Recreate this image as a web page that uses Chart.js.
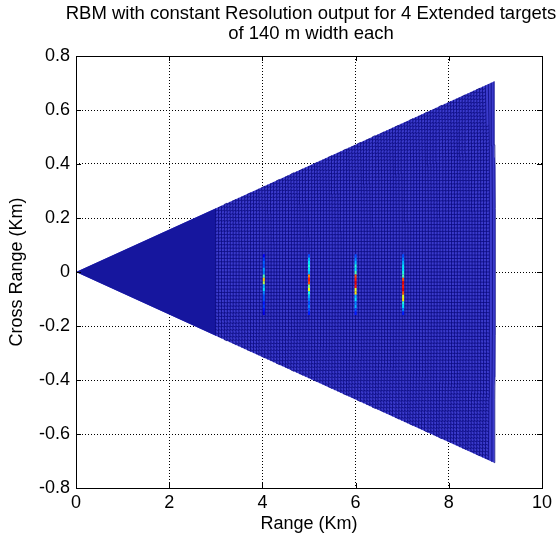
<!DOCTYPE html>
<html><head><meta charset="utf-8">
<script src="https://cdn.jsdelivr.net/npm/chart.js@4.4.0/dist/chart.umd.min.js"></script>
<style>html,body{margin:0;padding:0;background:#fff;overflow:hidden}canvas{display:block}</style>
</head><body>
<canvas id="c" width="558" height="537"></canvas>
<script>
// ---- chart content ----
const titleLines = ['RBM with constant Resolution output for 4 Extended targets', 'of 140 m width each'];
const xLabel = 'Range (Km)';
const yLabel = 'Cross Range (Km)';
const xTicks = [0, 2, 4, 6, 8, 10];
const yTicks = [-0.8, -0.6, -0.4, -0.2, 0, 0.2, 0.4, 0.6, 0.8];

// ---- scan geometry (polar grid) ----
const maxRangeKm = 9;
const fineStartKm = 3;
const halfAngleDeg = 4.5;
const rangeCellKm = 0.0625;
const crossCellKm = 0.0125;

// ---- targets: range (km), top cross range (km), intensity per cell (0..1, top to bottom) ----
const targetRanges = [4.03, 5.0, 6.0, 7.02];
const targetTopKm = 0.066;
const targetCellKm = 0.0125;
const target4km = [0.12, 0.18, 0.22, 0.2, 0.28, 0.25, 0.45, 0.68, 0.55, 0.3, 0.35, 0.25, 0.2, 0.2, 0.15, 0.18, 0.14, 0.1];
const target5km = [0.2, 0.3, 0.35, 0.4, 0.35, 0.3, 0.75, 0.85, 0.8, 0.5, 0.62, 0.4, 0.3, 0.25, 0.2, 0.25, 0.2, 0.15];
const target6km = [0.2, 0.25, 0.3, 0.4, 0.35, 0.45, 0.8, 0.85, 0.9, 0.85, 0.6, 0.65, 0.3, 0.35, 0.25, 0.3, 0.2, 0.15];
const target7km = [0.2, 0.25, 0.3, 0.35, 0.35, 0.4, 0.45, 0.8, 0.9, 0.85, 0.9, 0.8, 0.6, 0.65, 0.4, 0.35, 0.25, 0.15];
const targetValues = [target4km, target5km, target6km, target7km];

// ---- colours ----
const cellBlue = '#3b3bcc';
const nearBlue = '#16169e';
const cellLine = 'rgba(5,5,120,0.8)';
const FONT = '"Liberation Sans", Arial, Helvetica, sans-serif';

function jet(v) {
  const c = t => Math.round(255 * Math.max(0, Math.min(1, t)));
  return `rgb(${c(1.5 - Math.abs(4 * v - 3))},${c(1.5 - Math.abs(4 * v - 2))},${c(1.5 - Math.abs(4 * v - 1))})`;
}

const theta = halfAngleDeg * Math.PI / 180;
function arcPts(r, n) {
  const pts = [];
  for (let k = 0; k <= n; k++) {
    const a = -theta + 2 * theta * k / n;
    pts.push({x: r * Math.cos(a), y: r * Math.sin(a)});
  }
  return pts;
}
const GAP = {x: NaN, y: NaN};
const wedgePts = [{x: 0, y: 0}, ...arcPts(maxRangeKm, 40), {x: 0, y: 0}];
const nearPts = [{x: 0, y: 0}, ...arcPts(fineStartKm, 16), {x: 0, y: 0}];

const gridPts = [];
const nBands = Math.round((maxRangeKm - fineStartKm) / rangeCellKm);
for (let i = 0; i <= nBands; i++) {
  const r = fineStartKm + i * rangeCellKm;
  gridPts.push(...arcPts(r, 6), GAP);
}
for (let i = 0; i < nBands; i++) {
  const r0 = fineStartKm + i * rangeCellKm, r1 = r0 + rangeCellKm;
  const kmax = Math.floor(r0 * Math.sin(theta) / crossCellKm);
  for (let k = -kmax; k <= kmax; k++) {
    const phi = Math.asin(k * crossCellKm / r0);
    gridPts.push({x: r0 * Math.cos(phi), y: r0 * Math.sin(phi)}, {x: r1 * Math.cos(phi), y: r1 * Math.sin(phi)}, GAP);
  }
}

const datasets = [
  {data: wedgePts, backgroundColor: cellBlue, borderWidth: 0, fill: 'shape', order: 10},
  {data: nearPts, backgroundColor: nearBlue, borderWidth: 0, fill: 'shape', order: 9},
  {data: gridPts, borderColor: cellLine, borderWidth: 0.9, fill: false, spanGaps: false, order: 8}
];
targetValues.forEach((vals, t) => {
  const pts = [];
  for (let k = 0; k <= vals.length; k++) pts.push({x: targetRanges[t], y: targetTopKm - k * targetCellKm});
  datasets.push({
    data: pts, borderWidth: 2, fill: false, order: 1,
    borderColor: jet(vals[0]),
    segment: {borderColor: ctx => jet(vals[ctx.p0DataIndex])}
  });
});

const decor = {
  id: 'decor',
  afterDraw(chart) {
    const {ctx, chartArea: a, scales: {x, y}} = chart;
    ctx.save();
    ctx.strokeStyle = '#000';
    ctx.lineWidth = 1;
    ctx.beginPath();
    xTicks.forEach(v => {
      const px = Math.round(x.getPixelForValue(v)) + 0.5;
      ctx.moveTo(px, a.bottom); ctx.lineTo(px, a.bottom - 5);
      ctx.moveTo(px, a.top); ctx.lineTo(px, a.top + 5);
    });
    yTicks.forEach(v => {
      const py = Math.round(y.getPixelForValue(v)) + 0.5;
      ctx.moveTo(a.left, py); ctx.lineTo(a.left + 5, py);
      ctx.moveTo(a.right, py); ctx.lineTo(a.right - 5, py);
    });
    ctx.stroke();
    ctx.strokeRect(Math.round(a.left) + 0.5, Math.round(a.top) + 0.5, Math.round(a.right - a.left), Math.round(a.bottom - a.top));
    ctx.fillStyle = '#000';
    ctx.font = '18.5px ' + FONT;
    ctx.textAlign = 'center';
    ctx.textBaseline = 'middle';
    const cx = (a.left + a.right) / 2 + 2;
    ctx.fillText(titleLines[0], cx, 14);
    ctx.fillText(titleLines[1], cx, 34);
    ctx.restore();
  }
};

new Chart(document.getElementById('c'), {
  type: 'line',
  data: {datasets},
  options: {
    responsive: false, animation: false, devicePixelRatio: 1,
    parsing: false, normalized: true,
    elements: {point: {radius: 0, hitRadius: 0}, line: {tension: 0}},
    layout: {padding: {top: 56, right: 16, left: 0, bottom: 0}},
    plugins: {legend: {display: false}, tooltip: {enabled: false}, title: {display: false}},
    events: [],
    scales: {
      x: {
        type: 'linear', min: 0, max: 10,
        afterBuildTicks: s => { s.ticks = xTicks.map(v => ({value: v})); },
        afterFit: s => { s.height = 49; },
        grid: {color: '#000', lineWidth: 1, drawTicks: false},
        border: {display: false, dash: [1, 2]},
        ticks: {color: '#000', font: {family: FONT, size: 18}, padding: 4, maxRotation: 0, callback: v => String(v)},
        title: {display: true, text: xLabel, color: '#000', font: {family: FONT, size: 18}, padding: {top: 0, bottom: 2}}
      },
      y: {
        type: 'linear', min: -0.8, max: 0.8,
        afterBuildTicks: s => { s.ticks = yTicks.map(v => ({value: v})); },
        afterFit: s => { s.width = 76; },
        grid: {color: '#000', lineWidth: 1, drawTicks: false},
        border: {display: false, dash: [1, 2]},
        ticks: {color: '#000', font: {family: FONT, size: 18}, padding: 6, callback: v => String(Math.round(v * 10) / 10)},
        title: {display: true, text: yLabel, color: '#000', font: {family: FONT, size: 18}, padding: {top: 6, bottom: 0}}
      }
    }
  },
  plugins: [decor]
});
</script>
</body></html>
